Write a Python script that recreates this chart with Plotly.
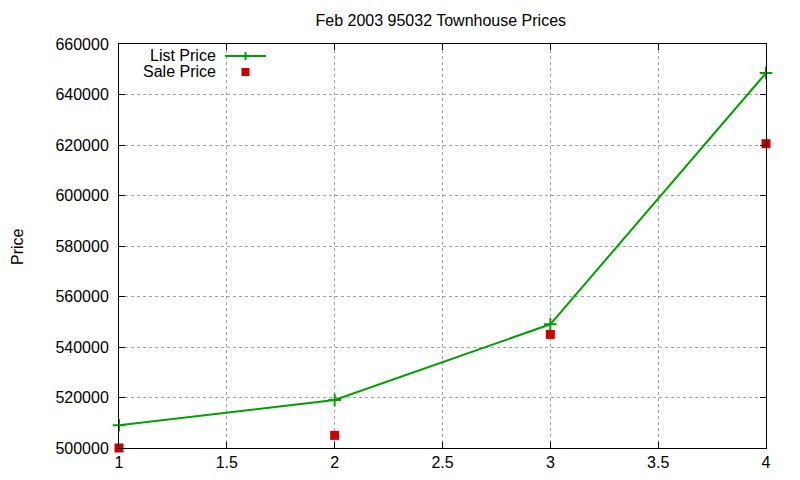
import plotly.graph_objects as go

# values
units = [1, 2, 3, 4]
list_price = [509000, 519000, 549000, 648500]
sale_price = [500000, 505000, 545000, 620500]
x_ticks = [1, 1.5, 2, 2.5, 3, 3.5, 4]
y_ticks = [500000, 520000, 540000, 560000, 580000, 600000, 620000, 640000, 660000]

GREEN = '#00a000'
RED = '#cc0000'
FONT = 'Liberation Sans'

fig = go.Figure()

fig.add_trace(go.Scatter(
    x=units,
    y=list_price,
    name='List Price',
    mode='lines+markers',
    line=dict(color=GREEN, width=2),
    marker=dict(symbol='cross-thin', size=9, line=dict(color=GREEN, width=2)),
    cliponaxis=False,
))
fig.add_trace(go.Scatter(
    x=units,
    y=sale_price,
    name='Sale Price',
    mode='markers',
    marker=dict(symbol='square', size=9, color=RED),
    cliponaxis=False,
))

# the page sits 8px in from the window corner, margins allow for that
fig.update_layout(
    width=800,
    height=480,
    template='plotly_white',
    showlegend=False,
    plot_bgcolor='white',
    paper_bgcolor='white',
    font=dict(family=FONT, size=16, color='black'),
    margin=dict(l=111, r=42, t=36, b=40, pad=0),
    title=dict(text='Feb 2003 95032 Townhouse Prices', x=0.541, xanchor='center',
               y=0.975, yanchor='middle', font=dict(size=16)),
)

axis_style = dict(
    showline=True, linecolor='black', linewidth=1, mirror='allticks',
    ticks='inside', ticklen=6, tickcolor='black',
    showgrid=True, gridcolor='#a0a0a0', griddash='dot', gridwidth=1,
    zeroline=False,
)
fig.update_xaxes(range=[1, 4], tickvals=x_ticks, ticktext=[f'{t:g}' for t in x_ticks], **axis_style)
fig.update_yaxes(range=[500000, 660000], tickvals=y_ticks, ticktext=[str(t) for t in y_ticks],
                 ticklabelstandoff=6, **axis_style)

# y title placed like the reference
fig.add_annotation(text='Price', xref='paper', yref='paper', x=-0.1577, y=0.5,
                   xanchor='center', yanchor='middle',
                   textangle=-90, showarrow=False, font=dict(size=16))

# hand-made key: text on the left, sample on the right
fig.add_annotation(text='List Price', xref='paper', yref='paper', x=0.1515, y=0.971,
                   xanchor='right', yanchor='middle', showarrow=False, height=15, borderpad=0)
fig.add_annotation(text='Sale Price', xref='paper', yref='paper', x=0.1515, y=0.9307,
                   xanchor='right', yanchor='middle', showarrow=False, height=15, borderpad=0)
fig.add_shape(type='line', xref='paper', yref='paper', x0=0.1638, x1=0.2272, y0=0.970, y1=0.970,
              line=dict(color=GREEN, width=2))
fig.add_shape(type='line', xref='paper', yref='paper', x0=0.1955, x1=0.1955, y0=0.960, y1=0.980,
              line=dict(color=GREEN, width=2))
fig.add_shape(type='rect', xref='paper', yref='paper', x0=0.1893, x1=0.2017, y0=0.9208, y1=0.9406,
              line=dict(width=0), fillcolor=RED)

fig.write_html('out.html')
